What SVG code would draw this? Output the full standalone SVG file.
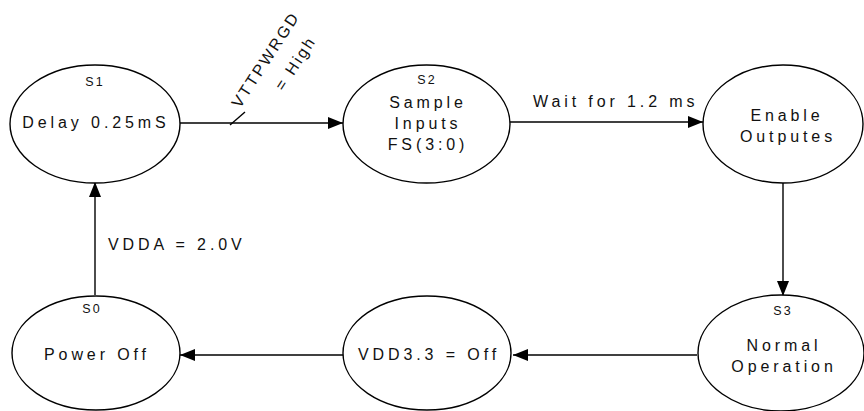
<svg xmlns="http://www.w3.org/2000/svg" width="864" height="411" viewBox="0 0 864 411">
<defs>
<style>
.st{fill:#fff;stroke:#000;stroke-width:1.4}
.ln{fill:none;stroke:#000;stroke-width:1.4}
text{font-family:"Liberation Sans",Arial,sans-serif;fill:#111}
.lb{font-size:16px;letter-spacing:3.9px;text-anchor:middle}
.sm{font-size:12.5px;letter-spacing:2px;text-anchor:middle}
.el{font-size:16px;letter-spacing:3.9px}
.rt{font-size:16px;letter-spacing:2.4px}
</style>
<marker id="ah" markerUnits="userSpaceOnUse" markerWidth="16" markerHeight="12" refX="15" refY="6" orient="auto">
<path d="M0,0 L15,6 L0,12 z" fill="#000"/>
</marker>
</defs>
<g id="connectors">
<line class="ln" x1="180" y1="123" x2="343" y2="123" marker-end="url(#ah)"/>
<line class="ln" x1="230" y1="125" x2="245" y2="112"/>
<text class="rt" transform="translate(240,109) rotate(-57)">VTTPWRGD<tspan x="38" y="27">= High</tspan></text>
<line class="ln" x1="510" y1="122" x2="703" y2="122" marker-end="url(#ah)"/>
<text class="el" x="533" y="107">Wait for 1.2 ms</text>
<line class="ln" x1="783" y1="183" x2="783" y2="296" marker-end="url(#ah)"/>
<line class="ln" x1="697" y1="355" x2="513" y2="355" marker-end="url(#ah)"/>
<line class="ln" x1="343" y1="355" x2="180" y2="355" marker-end="url(#ah)"/>
<line class="ln" x1="95" y1="295" x2="95" y2="182" marker-end="url(#ah)"/>
<text class="el" x="108" y="250">VDDA = 2.0V</text>
</g>
<g id="S1">
<ellipse class="st" cx="95" cy="124" rx="85" ry="59"/>
<text class="sm" x="95" y="86">S1</text>
<text class="lb" x="96" y="128">Delay 0.25mS</text>
</g>
<g id="S2">
<ellipse class="st" cx="426.5" cy="124" rx="83.5" ry="59"/>
<text class="sm" x="427" y="84">S2</text>
<text class="lb" x="428" y="108">Sample</text>
<text class="lb" x="428" y="129">Inputs</text>
<text class="lb" x="428" y="150">FS(3:0)</text>
</g>
<g id="Enable">
<ellipse class="st" cx="783" cy="124" rx="80" ry="59"/>
<text class="lb" x="787" y="121">Enable</text>
<text class="lb" x="788" y="142">Outputes</text>
</g>
<g id="S3">
<ellipse class="st" cx="781" cy="353" rx="83" ry="58"/>
<text class="sm" x="783" y="315">S3</text>
<text class="lb" x="784" y="351">Normal</text>
<text class="lb" x="784" y="372">Operation</text>
</g>
<g id="VDD33">
<ellipse class="st" cx="427" cy="353" rx="84" ry="57"/>
<text class="lb" x="429" y="360">VDD3.3 = Off</text>
</g>
<g id="S0">
<ellipse class="st" cx="96" cy="353" rx="84" ry="57"/>
<text class="sm" x="92" y="313">S0</text>
<text class="lb" x="97" y="360">Power Off</text>
</g>
</svg>
